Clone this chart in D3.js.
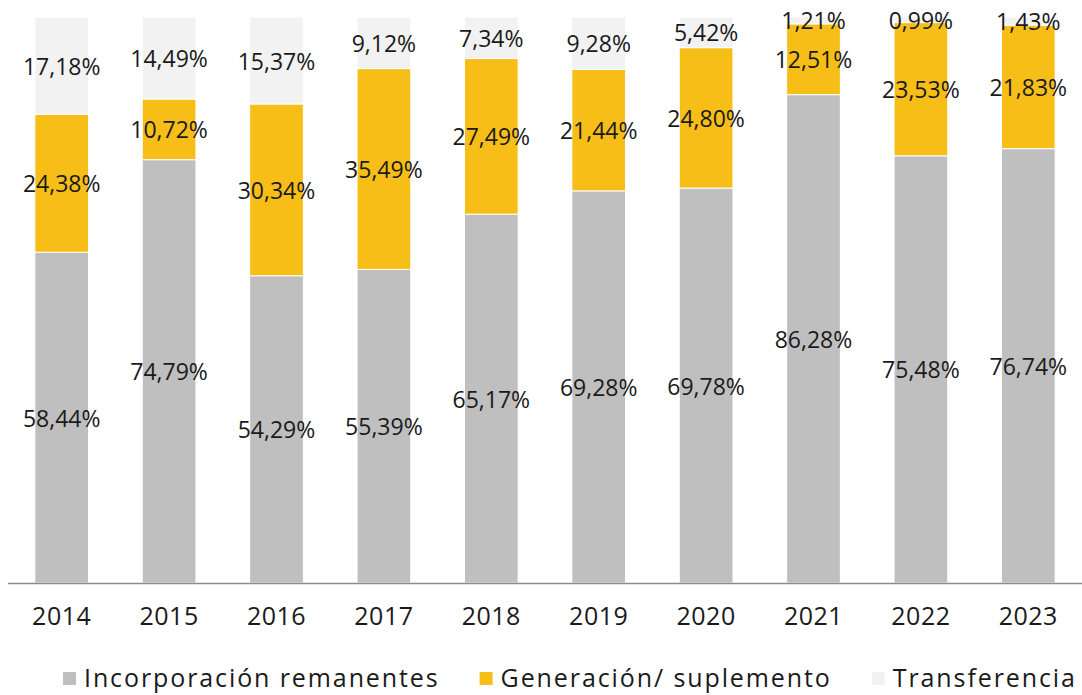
<!DOCTYPE html>
<html lang="es">
<head>
<meta charset="utf-8">
<title>Fuentes de financiamiento</title>
<script src="https://d3js.org/d3.v7.min.js"></script>
<style>
  body { margin: 0; background: #fff; }
  svg text { font-family: 'Open Sans', sans-serif; fill: #1a1a1a; }
  .axis path, .axis line { display: none; }
</style>
</head>
<body>
<svg id="chart" width="1082" height="695"></svg>
<script>
// datos (porcentajes)
var years = ["2014", "2015", "2016", "2017", "2018", "2019", "2020", "2021", "2022", "2023"];
var remanentes = [58.44, 74.79, 54.29, 55.39, 65.17, 69.28, 69.78, 86.28, 75.48, 76.74];
var generacion = [24.38, 10.72, 30.34, 35.49, 27.49, 21.44, 24.80, 12.51, 23.53, 21.83];
var transferencia = [17.18, 14.49, 15.37, 9.12, 7.34, 9.28, 5.42, 1.21, 0.99, 1.43];

var seriesNames = ["Incorporación remanentes", "Generación/ suplemento", "Transferencia"];
var seriesKeys = ["rem", "gen", "tra"];
var colors = ["#bfbfbf", "#f6be16", "#f2f2f2"];

var svg = d3.select("#chart"),
    width = +svg.attr("width"),
    height = +svg.attr("height");

var margin = {left: 8, right: 0, top: 17, bottom: 112};

var table = years.map(function(y, i) {
  return {year: y, rem: remanentes[i], gen: generacion[i], tra: transferencia[i]};
});

var x = d3.scaleBand()
    .domain(years)
    .range([margin.left, width - margin.right])
    .paddingInner(0.5)
    .paddingOuter(0.25);

var y = d3.scaleLinear()
    .domain([0, 100])
    .range([height - margin.bottom, margin.top]);

var stack = d3.stack().keys(seriesKeys);
var layers = stack(table);

var fmt = function(v) { return v.toFixed(2).replace(".", ",") + "%"; };

var g = svg.selectAll(".layer")
  .data(layers)
  .enter().append("g")
    .attr("class", "layer")
    .attr("fill", function(d, i) { return colors[i]; });

g.selectAll("rect")
  .data(function(d) { return d; })
  .enter().append("rect")
    .attr("x", function(d) { return x(d.data.year); })
    .attr("y", function(d) { return y(d[1]); })
    .attr("width", x.bandwidth())
    .attr("height", function(d) { return y(d[0]) - y(d[1]); })
    .attr("stroke", "#fff")
    .attr("stroke-width", 1);

// etiquetas de valores
layers.forEach(function(layer) {
  svg.append("g").selectAll("text")
    .data(layer)
    .enter().append("text")
      .attr("x", function(d) { return x(d.data.year) + x.bandwidth() / 2; })
      .attr("y", function(d) { return (y(d[0]) + y(d[1])) / 2 + 1; })
      .attr("dy", "0.35em")
      .attr("text-anchor", "middle")
      .style("font-size", "23px")
      .text(function(d) { return fmt(d[1] - d[0]); });
});

// eje x
svg.append("line")
    .attr("x1", margin.left)
    .attr("x2", width)
    .attr("y1", y(0) + 0.5)
    .attr("y2", y(0) + 0.5)
    .attr("stroke", "#8c8c8c")
    .attr("stroke-width", 1.5);

svg.append("g")
    .attr("class", "axis")
    .attr("transform", "translate(0," + y(0) + ")")
    .call(d3.axisBottom(x).tickSize(0).tickPadding(24))
    .selectAll("text")
      .style("font-size", "25px")
      .style("letter-spacing", "0.5px")
      .attr("fill", "#1a1a1a");

// leyenda
var legend = svg.append("g").attr("transform", "translate(63,678)");
var lx = 0;
seriesNames.forEach(function(name, i) {
  var item = legend.append("g").attr("transform", "translate(" + lx + ",0)");
  item.append("rect")
      .attr("x", 0).attr("y", -6)
      .attr("width", 13).attr("height", 13)
      .attr("fill", colors[i]);
  var t = item.append("text")
      .attr("x", 21)
      .attr("dy", "0.35em")
      .style("font-size", "25px")
      .style("letter-spacing", "1.9px")
      .text(name);
  lx += 21 + t.node().getComputedTextLength() + 40;
});
</script>
</body>
</html>
